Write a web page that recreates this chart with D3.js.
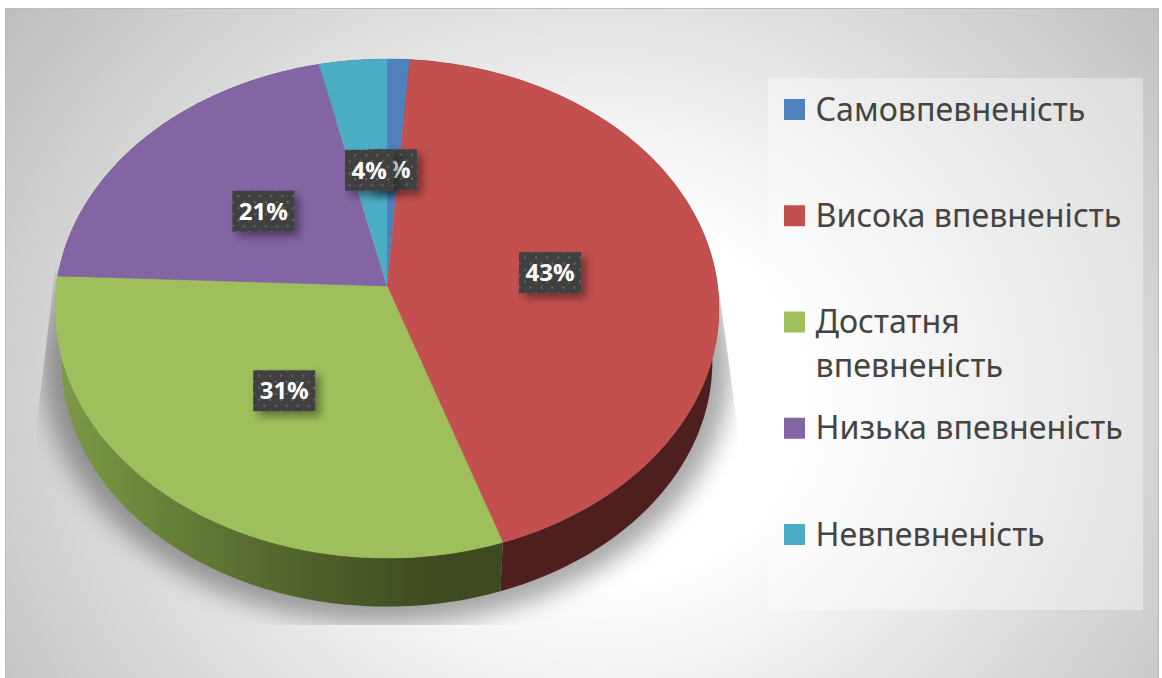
<!DOCTYPE html>
<html>
<head>
<meta charset="utf-8">
<style>
  html, body { margin: 0; padding: 0; background: #fff; overflow: hidden; }
  svg { display: block; }
</style>
<script src="https://cdn.jsdelivr.net/npm/d3@7"></script>
</head>
<body>
<svg id="chart" width="1162" height="678"></svg>
<script>
// Data
const categories = ["Самовпевненість", "Висока впевненість", "Достатня впевненість", "Низька впевненість", "Невпевненість"];
const legendLines = [["Самовпевненість"], ["Висока впевненість"], ["Достатня", "впевненість"], ["Низька впевненість"], ["Невпевненість"]];
const values = [1.2, 43.7, 30.9, 20.8, 3.6];
const percentLabels = ["1%", "43%", "31%", "21%", "4%"];
const topColors = ["#4f81bd", "#c3504e", "#9fbf5c", "#8365a4", "#4bacc6"];
const wallColors = ["#2a4566", "#4e1f1e", "url(#greenWall)", "#44355a", "#28606e"];

const W = 1162, H = 678;

// Perspective of the pie: apex and the tilted disc
const apexX = 387, apexY = 286;
const persp = -0.0902, radX = 330.6, radY = 247.5;
const wallDrop = 54, wallScale = 0.98;

const svg = d3.select("#chart").attr("viewBox", `0 0 ${W} ${H}`);
const defs = svg.append("defs");

// Background gradient
const bg = defs.append("radialGradient").attr("id", "bgGrad")
  .attr("gradientUnits", "userSpaceOnUse")
  .attr("cx", 0).attr("cy", 0).attr("r", 1)
  .attr("gradientTransform", "translate(600,400) scale(735,651)");
bg.append("stop").attr("offset", 0).attr("stop-color", "#ffffff");
bg.append("stop").attr("offset", 0.28).attr("stop-color", "#ffffff");
bg.append("stop").attr("offset", 1).attr("stop-color", "#bebebe");

const greenWall = defs.append("linearGradient").attr("id", "greenWall")
  .attr("gradientUnits", "userSpaceOnUse")
  .attr("x1", 60).attr("y1", 0).attr("x2", 430).attr("y2", 0);
greenWall.append("stop").attr("offset", 0).attr("stop-color", "#7c9a46");
greenWall.append("stop").attr("offset", 0.55).attr("stop-color", "#566a2e");
greenWall.append("stop").attr("offset", 1).attr("stop-color", "#3e4b20");

defs.append("filter").attr("id", "pieShadow")
  .attr("filterUnits", "userSpaceOnUse")
  .attr("x", 0).attr("y", 200).attr("width", 800).attr("height", 478)
  .append("feGaussianBlur").attr("stdDeviation", 12);

const labelShadow = defs.append("filter").attr("id", "labelShadow")
  .attr("x", "-30%").attr("y", "-30%").attr("width", "170%").attr("height", "170%");
labelShadow.append("feDropShadow")
  .attr("dx", 5).attr("dy", 5).attr("stdDeviation", 4)
  .attr("flood-color", "#000").attr("flood-opacity", 0.4);

const dots = defs.append("pattern").attr("id", "labelDots")
  .attr("patternUnits", "userSpaceOnUse")
  .attr("width", 11).attr("height", 12);
dots.append("rect").attr("width", 11).attr("height", 12).attr("fill", "#404040");
dots.append("circle").attr("cx", 2.5).attr("cy", 3).attr("r", 1.2).attr("fill", "#666");
dots.append("circle").attr("cx", 8).attr("cy", 9).attr("r", 1.2).attr("fill", "#666");

defs.append("clipPath").attr("id", "shadowClip")
  .append("polygon").attr("points", "55,270 36,430 36,625 738,625 738,430 719,290");

// Point on the disc, theta clockwise from the top, rho 0..1
function project(theta, rho, scale = 1, drop = 0) {
  const u = rho * Math.sin(theta), v = -rho * Math.cos(theta);
  const d = 1 + persp * v;
  return [
    apexX + scale * radX * u / d,
    apexY + scale * radY * v / d + drop
  ];
}

function arcPoints(start, end, scale = 1, drop = 0) {
  const n = Math.max(4, Math.ceil((end - start) / 0.02));
  return d3.range(n + 1).map(i => project(start + (end - start) * i / n, 1, scale, drop));
}

const line = d3.line();
const slices = d3.pie().sort(null)(values);

// Panel background
svg.append("rect").attr("width", W).attr("height", H).attr("fill", "#fff");
svg.append("rect")
  .attr("x", 5).attr("y", 8).attr("width", 1154).attr("height", 672)
  .attr("fill", "url(#bgGrad)");
svg.append("path").attr("d", "M5.5,680V8.5H1158.5V680")
  .attr("fill", "none").attr("stroke", "#bcbcbc").attr("stroke-width", 1);

// Legend panel
svg.append("rect")
  .attr("x", 768).attr("y", 78).attr("width", 375).attr("height", 532)
  .attr("fill", "#fff").attr("opacity", 0.38);

// Shadow under the pie
const gShadow = svg.append("g").attr("clip-path", "url(#shadowClip)");
gShadow.append("path")
  .attr("d", line(arcPoints(0, 2 * Math.PI, 1.035, wallDrop + 2)) + "Z")
  .attr("fill", "#000").attr("opacity", 0.34)
  .attr("filter", "url(#pieShadow)");

// Outer walls, then the top faces over them
const gWalls = svg.append("g").attr("class", "walls");
slices.forEach((s, i) => {
  const top = arcPoints(s.startAngle, s.endAngle);
  const bottom = arcPoints(s.startAngle, s.endAngle, wallScale, wallDrop).reverse();
  gWalls.append("path")
    .attr("d", line(top.concat(bottom)) + "Z")
    .attr("fill", wallColors[i]);
});

const gTop = svg.append("g").attr("class", "slices");
slices.forEach((s, i) => {
  gTop.append("path")
    .attr("d", line([[apexX, apexY]].concat(arcPoints(s.startAngle, s.endAngle))) + "Z")
    .attr("fill", topColors[i])
    .attr("stroke", topColors[i]).attr("stroke-width", 0.4);
});

// Data labels
const gLabels = svg.append("g").attr("class", "labels");
slices.forEach((s, i) => {
  const [x, y] = project((s.startAngle + s.endAngle) / 2, 0.5);
  const g = gLabels.append("g").attr("transform", `translate(${x},${y + 2})`);
  const box = g.append("rect")
    .attr("fill", "url(#labelDots)")
    .attr("filter", "url(#labelShadow)");
  const t = g.append("text")
    .attr("text-anchor", "middle").attr("y", 8.5)
    .attr("font-family", "'Open Sans', sans-serif")
    .attr("font-weight", 700).attr("font-size", 24)
    .attr("fill", "#fff")
    .text(percentLabels[i]);
  const w = t.node().getComputedTextLength() + 13;
  box.attr("x", -w / 2).attr("y", -20.5).attr("width", w).attr("height", 41);
});

// Legend
const legendY = d3.scalePoint().domain(categories).range([109.5, 534.5]);
const gLegend = svg.append("g").attr("class", "legend");
categories.forEach((c, i) => {
  const y = legendY(c);
  gLegend.append("rect")
    .attr("x", 784).attr("y", y - 10.5).attr("width", 21).attr("height", 21)
    .attr("fill", topColors[i]);
  const text = gLegend.append("text")
    .attr("font-family", "'Noto Sans', sans-serif")
    .attr("font-size", 32.2).attr("fill", "#444");
  legendLines[i].forEach((l, k) => {
    text.append("tspan").attr("x", 815.5).attr("y", y + 11 + k * 44).text(l);
  });
});
</script>
</body>
</html>
